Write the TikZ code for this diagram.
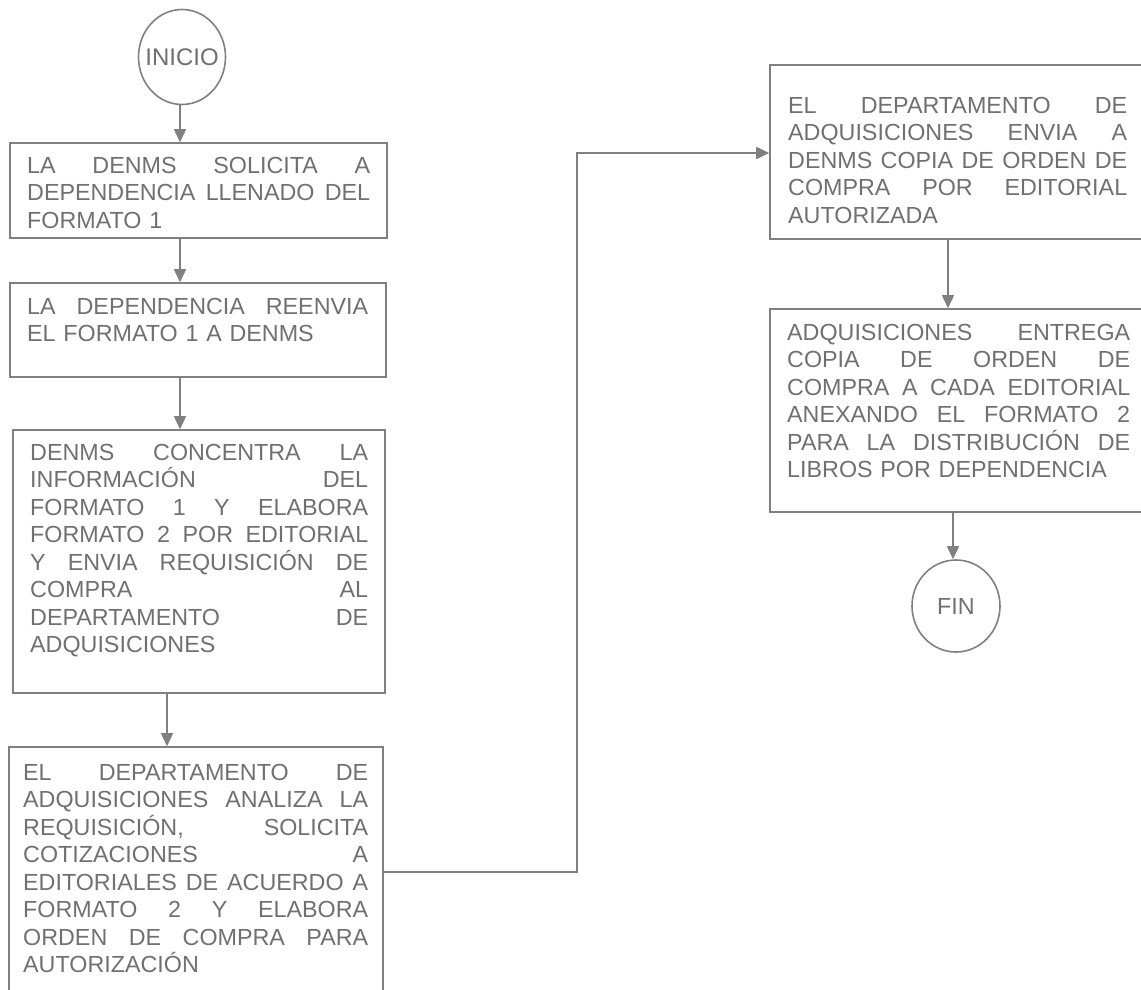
\documentclass[tikz,border=0pt]{standalone}
\usepackage{fontspec}
\setmainfont{Liberation Sans}
\usetikzlibrary{arrows.meta,shapes.geometric}
\definecolor{txt}{RGB}{112,112,112}
\definecolor{ln}{RGB}{128,128,128}
\begin{document}
\begin{tikzpicture}[x=1pt,y=-1pt,
  box/.style={draw=ln,line width=1.6pt,rectangle,inner sep=0pt},
  term/.style={draw=ln,line width=1.6pt,ellipse,inner sep=0pt},
  para/.style={anchor=base west,inner sep=0pt,align=left,text=txt,font=\fontsize{23.3}{27.5}\selectfont},
  arr/.style={draw=ln,line width=1.6pt,-{Triangle[length=13pt,width=12pt]}},
]
\clip (0,0) rectangle (1141,989);
\fill[white] (0,0) rectangle (1141,989);

% terminals
\node[term,minimum width=87pt,minimum height=95pt,
  label={[text=txt,font=\fontsize{24}{29}\selectfont]center:INICIO}] (inicio) at (182,57) {};
\node[term,minimum width=88pt,minimum height=92pt,
  label={[text=txt,font=\fontsize{23.3}{28}\selectfont]center:FIN}] (fin) at (956,606) {};

% boxes
\node[box,minimum width=377pt,minimum height=95pt] (b1) at (198.5,190.5) {};
\node[box,minimum width=376pt,minimum height=94pt] (b2) at (198,330) {};
\node[box,minimum width=372pt,minimum height=263pt] (b3) at (199,561.5) {};
\node[box,minimum width=374pt,minimum height=273pt] (b4) at (196,883.5) {};
\node[box,minimum width=400pt,minimum height=174pt] (b5) at (970,152) {};
\node[box,minimum width=400pt,minimum height=203pt] (b6) at (970,410.5) {};

% texts
\node[para,text width=343pt] (t1) at (27,173) {LA\hfill DENMS\hfill SOLICITA\hfill A\\ DEPENDENCIA\hfill LLENADO\hfill DEL\\ FORMATO 1};
\node[para,text width=341pt] (t2) at (27,314) {LA\hfill DEPENDENCIA\hfill REENVIA\\ EL FORMATO 1 A DENMS};
\node[para,text width=338pt] (t3) at (30,460) {DENMS\hfill CONCENTRA\hfill LA\\ INFORMACIÓN\hfill DEL\\ FORMATO\hfill 1\hfill Y\hfill ELABORA\\ FORMATO\hfill 2\hfill POR\hfill EDITORIAL\\ Y\hfill ENVIA\hfill REQUISICIÓN\hfill DE\\ COMPRA\hfill AL\\ DEPARTAMENTO\hfill DE\\ ADQUISICIONES};
\node[para,text width=345pt] (t4) at (23,780) {EL\hfill DEPARTAMENTO\hfill DE\\ ADQUISICIONES\hfill ANALIZA\hfill LA\\ REQUISICIÓN,\hfill SOLICITA\\ COTIZACIONES\hfill A\\ EDITORIALES\hfill DE\hfill ACUERDO\hfill A\\ FORMATO\hfill 2\hfill Y\hfill ELABORA\\ ORDEN\hfill DE\hfill COMPRA\hfill PARA\\ AUTORIZACIÓN};
\node[para,text width=339pt] (t5) at (788,113) {EL\hfill DEPARTAMENTO\hfill DE\\ ADQUISICIONES\hfill ENVIA\hfill A\\ DENMS\hfill COPIA\hfill DE\hfill ORDEN\hfill DE\\ COMPRA\hfill POR\hfill EDITORIAL\\ AUTORIZADA};
\node[para,text width=343pt] (t6) at (787,340) {ADQUISICIONES\hfill ENTREGA\\ COPIA\hfill DE\hfill ORDEN\hfill DE\\ COMPRA\hfill A\hfill CADA\hfill EDITORIAL\\ ANEXANDO\hfill EL\hfill FORMATO\hfill 2\\ PARA\hfill LA\hfill DISTRIBUCIÓN\hfill DE\\ LIBROS POR DEPENDENCIA};

% connector helper coordinates
\coordinate (xa) at (180,0);
\coordinate (xb) at (167,0);
\coordinate (xc) at (577,0);
\coordinate (yc) at (0,872);
\coordinate (yd) at (0,153);
\coordinate (xe) at (948,0);
\coordinate (xf) at (953,0);

% connectors
\draw[arr] (inicio.south -| xa) -- (b1.north -| xa);
\draw[arr] (b1.south -| xa) -- (b2.north -| xa);
\draw[arr] (b2.south -| xa) -- (b3.north -| xa);
\draw[arr] (b3.south -| xb) -- (b4.north -| xb);
\draw[arr] (b4.east |- yc) -| (xc |- yd) -- (b5.west |- yd);
\draw[arr] (b5.south -| xe) -- (b6.north -| xe);
\draw[arr] (b6.south -| xf) -- (fin.north -| xf);
\end{tikzpicture}
\end{document}
